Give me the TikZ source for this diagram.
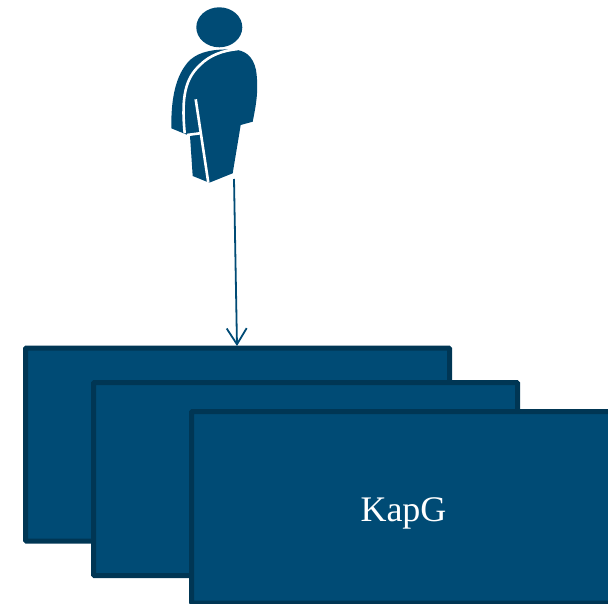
\documentclass[tikz,border=0pt]{standalone}
\usepackage{fontspec}
\setmainfont{Liberation Serif}
\usetikzlibrary{arrows.meta}
\definecolor{kapblue}{HTML}{004B75}
\definecolor{kapedge}{HTML}{003654}

\begin{document}
\begin{tikzpicture}[x=1pt, y=-1pt, >={Straight Barb[length=16pt, width=20pt]},
    kapbox/.style={draw=kapedge, fill=kapblue, line width=5pt, rounded corners=1pt,
      minimum width=424pt, minimum height=193pt}]
  \useasboundingbox (0,0) rectangle (608,604);

  % Stacked boxes
  \node[kapbox] (kapa) at (237.5,444.5) {};
  \node[kapbox] (kapb) at (305.5,479) {};
  \node[kapbox, minimum width=440pt, minimum height=191.5pt] (kapc) at (411.5,507.25) {};
  \node[text=white, font=\fontsize{36}{40}\selectfont] (kaplabel) at (403.5,513) {KapG};

  % Person
  \fill[kapblue] (219.3,27.3) ellipse (23 and 20);
  \fill[kapblue] (171.3,128.3) .. controls (171,100) and (175,75) .. (190,60)
    .. controls (200,51) and (215,49) .. (233,49.5)
    .. controls (245,50) and (253,56) .. (256,70)
    .. controls (259,90) and (256,105) .. (252.7,121.7)
    -- (240.7,125) -- (232.7,173.3) -- (209.3,182.7) -- (192.7,176) -- (190,136) -- cycle;
  \draw[white, line width=2.6pt] (184.7,133.3) .. controls (181,95) and (186,78) .. (200,65)
    .. controls (210,55) and (223,50.5) .. (238,49);
  \draw[white, line width=2.6pt] (195.7,99.3) -- (208.3,182.7);
  \draw[white, line width=2.6pt] (187,135) -- (200,133.3);

  % Arrow from person to box
  \coordinate (foot) at (234,179);
  \coordinate (pin) at (237,346);
  \draw[->, kapblue, line width=1.8pt] (foot) -- (pin);
\end{tikzpicture}
\end{document}
